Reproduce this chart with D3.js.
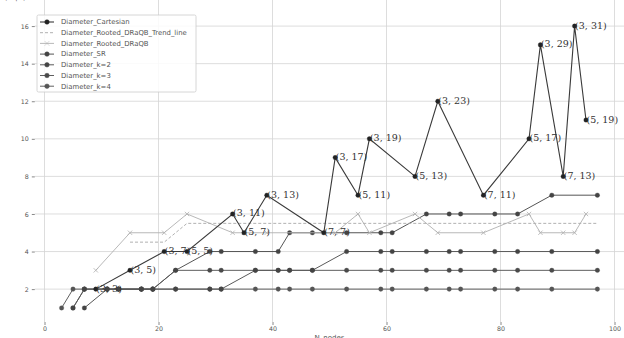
<!DOCTYPE html>
<html>
<head>
<meta charset="utf-8">
<script src="https://cdn.jsdelivr.net/npm/d3@7"></script>
<style>
  body { margin: 0; background: #fff; }
  svg { display: block; }
</style>
</head>
<body>
<div id="chart"></div>
<script>
// n values (primes) used by the SR / k series
var primes = [3, 5, 7, 11, 13, 17, 19, 23, 29, 31, 37, 41, 43, 47, 53, 59, 61, 67, 71, 73, 79, 83, 89, 97];
var diamSR = [null, null, 1, 2, 2, 2, 2, 3, 4, 4, 4, 4, 5, 5, 5, 5, 5, 6, 6, 6, 6, 6, 7, 7];
var diamK2 = [null, 1, 2, 2, 2, 2, 2, 2, 2, 2, 3, 3, 3, 3, 4, 4, 4, 4, 4, 4, 4, 4, 4, 4];
var diamK3 = [null, 1, 2, 2, 2, 2, 2, 3, 3, 3, 3, 3, 3, 3, 3, 3, 3, 3, 3, 3, 3, 3, 3, 3];
var diamK4 = [1, 2, 2, 2, 2, 2, 2, 2, 2, 2, 2, 2, 2, 2, 2, 2, 2, 2, 2, 2, 2, 2, 2, 2];

// n = a*b values used by the cartesian / rooted series
var composites = [9, 15, 21, 25, 33, 35, 39, 49, 51, 55, 57, 65, 69, 77, 85, 87, 91, 93, 95];
var factors = ["(3, 3)", "(3, 5)", "(3, 7)", "(5, 5)", "(3, 11)", "(5, 7)", "(3, 13)", "(7, 7)", "(3, 17)", "(5, 11)",
               "(3, 19)", "(5, 13)", "(3, 23)", "(7, 11)", "(5, 17)", "(3, 29)", "(7, 13)", "(3, 31)", "(5, 19)"];
var diamCartesian = [2, 3, 4, 4, 6, 5, 7, 5, 9, 7, 10, 8, 12, 7, 10, 15, 8, 16, 11];
var diamRooted = [3, 5, 5, 6, 5, 5, 5, 5, 5, 6, 5, 6, 5, 5, 6, 5, 5, 5, 6];

var trendX = [15, 21, 25, 97];
var trendY = [4.5, 4.5, 5.5, 5.5];

var xTicks = [0, 20, 40, 60, 80, 100];
var yTicks = [2, 4, 6, 8, 10, 12, 14, 16];

var width = 624, height = 338;

var svg = d3.select("#chart").append("svg")
    .attr("width", width)
    .attr("height", height);

svg.append("rect").attr("width", width).attr("height", height).attr("fill", "#fff");

var x = d3.scaleLinear().domain([0, 100]).range([44.5, 614.5]);
var y = d3.scaleLinear().domain([0.25, 16.75]).range([322, 12]);

var left = x(-1.7), right = x(101.7), top = y(16.75), bottom = y(0.25);

// grid
var grid = svg.append("g").attr("stroke", "#d4d4d4").attr("stroke-width", 0.8);
grid.selectAll(".gx").data(xTicks).enter().append("line")
    .attr("x1", function(d) { return x(d); }).attr("x2", function(d) { return x(d); })
    .attr("y1", top).attr("y2", bottom);
grid.selectAll(".gy").data(yTicks).enter().append("line")
    .attr("x1", left).attr("x2", right)
    .attr("y1", function(d) { return y(d); }).attr("y2", function(d) { return y(d); });

// axes
var xAxis = svg.append("g")
    .attr("transform", "translate(0," + bottom + ")")
    .call(d3.axisBottom(x).tickValues(xTicks).tickSize(3).tickPadding(2));
var yAxis = svg.append("g")
    .attr("transform", "translate(" + left + ",0)")
    .call(d3.axisLeft(y).tickValues(yTicks).tickSize(3).tickPadding(3));
[xAxis, yAxis].forEach(function(a) {
  a.select(".domain").remove();
  a.selectAll("line").attr("stroke", "#888");
  a.selectAll("text").attr("fill", "#555").style("font", "6.3px 'DejaVu Sans'");
});

// frame
svg.append("rect")
    .attr("x", left).attr("y", top)
    .attr("width", right - left).attr("height", bottom - top)
    .attr("fill", "none").attr("stroke", "#999").attr("stroke-width", 0.9);

svg.append("text")
    .attr("x", (left + right) / 2).attr("y", 340)
    .attr("text-anchor", "middle")
    .style("font", "7px 'DejaVu Sans'").attr("fill", "#555")
    .text("N_nodes");
svg.append("text")
    .attr("transform", "translate(13," + ((top + bottom) / 2) + ") rotate(-90)")
    .attr("text-anchor", "middle")
    .style("font", "6.5px 'DejaVu Sans'").attr("fill", "#555")
    .text("Diameter(hops)");

function pts(xs, ys) {
  return xs.map(function(v, i) { return {x: v, y: ys[i]}; })
           .filter(function(d) { return d.y != null; });
}

var line = d3.line()
    .x(function(d) { return x(d.x); })
    .y(function(d) { return y(d.y); });

var series = [
  {name: "Diameter_Cartesian", data: pts(composites, diamCartesian), color: "#3a3a3a", mcolor: "#222", marker: "circle", width: 1.1},
  {name: "Diameter_Rooted_DRaQB_Trend_line", data: pts(trendX, trendY), color: "#a8a8a8", marker: null, dash: "3,2", width: 0.9},
  {name: "Diameter_Rooted_DRaQB", data: pts(composites, diamRooted), color: "#b0b0b0", mcolor: "#b0b0b0", marker: "x", width: 0.9},
  {name: "Diameter_SR", data: pts(primes, diamSR), color: "#555", mcolor: "#444", marker: "circle", width: 1},
  {name: "Diameter_k=2", data: pts(primes, diamK2), color: "#5a5a5a", mcolor: "#444", marker: "circle", width: 1},
  {name: "Diameter_k=3", data: pts(primes, diamK3), color: "#5e5e5e", mcolor: "#4a4a4a", marker: "circle", width: 1},
  {name: "Diameter_k=4", data: pts(primes, diamK4), color: "#606060", mcolor: "#555", marker: "circle", width: 1}
];

var drawOrder = [6, 5, 4, 3, 2, 1, 0];
drawOrder.forEach(function(i) {
  var s = series[i];
  var g = svg.append("g");
  g.append("path")
      .datum(s.data)
      .attr("fill", "none")
      .attr("stroke", s.color)
      .attr("stroke-width", s.width)
      .attr("stroke-dasharray", s.dash || null)
      .attr("d", line);
  if (s.marker) {
    var sym = d3.symbol().type(s.marker === "x" ? d3.symbolX : d3.symbolCircle).size(s.marker === "x" ? 14 : 16);
    g.selectAll("path.m").data(s.data).enter().append("path")
        .attr("class", "m")
        .attr("transform", function(d) { return "translate(" + x(d.x) + "," + y(d.y) + ")"; })
        .attr("d", sym)
        .attr("fill", s.mcolor)
        .attr("stroke", s.mcolor)
        .attr("stroke-width", s.marker === "x" ? 0.8 : 0.3);
  }
});

// factor labels on the cartesian points
svg.append("g").selectAll("text").data(pts(composites, diamCartesian)).enter().append("text")
    .attr("x", function(d) { return x(d.x) + 0.5; })
    .attr("y", function(d) { return y(d.y) + 2.5; })
    .style("font", "9.5px 'DejaVu Serif'")
    .attr("fill", "#333")
    .text(function(d, i) { return factors[i]; });

// legend
var lg = svg.append("g").attr("transform", "translate(37,15)");
lg.append("rect")
    .attr("width", 159).attr("height", 77)
    .attr("fill", "#fff").attr("fill-opacity", 0.85)
    .attr("stroke", "#ccc").attr("stroke-width", 0.8).attr("rx", 1.5);
series.forEach(function(s, i) {
  var yy = 7 + i * 10.7;
  var item = lg.append("g").attr("transform", "translate(0," + yy + ")");
  item.append("line")
      .attr("x1", 3).attr("x2", 17).attr("y1", 0).attr("y2", 0)
      .attr("stroke", s.color).attr("stroke-width", s.width)
      .attr("stroke-dasharray", s.dash || null);
  if (s.marker) {
    item.append("path")
        .attr("transform", "translate(10,0)")
        .attr("d", d3.symbol().type(s.marker === "x" ? d3.symbolX : d3.symbolCircle).size(16))
        .attr("fill", s.mcolor).attr("stroke", s.mcolor).attr("stroke-width", 0.5);
  }
  item.append("text")
      .attr("x", 24).attr("y", 2.3)
      .style("font", "6.9px 'DejaVu Sans'")
      .attr("fill", "#555")
      .text(s.name);
});
</script>
</body>
</html>
